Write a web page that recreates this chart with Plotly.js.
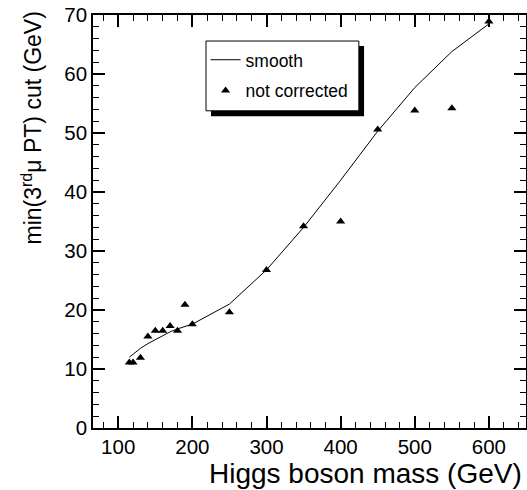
<!DOCTYPE html>
<html>
<head>
<meta charset="utf-8">
<script src="https://cdn.plot.ly/plotly-3.0.1.min.js"></script>
<style>html,body{margin:0;padding:0;background:#fff;}#chart{width:527px;height:490px;}</style>
</head>
<body>
<div id="chart"></div>
<script>
// Higgs boson mass (GeV)
const massSmooth = [115, 120, 130, 140, 150, 160, 170, 180, 190, 200, 250, 300, 350, 400, 450, 500, 550, 600];
const cutSmooth  = [12.0, 12.5, 13.5, 14.3, 15.0, 15.7, 16.3, 16.8, 17.2, 17.6, 21.0, 26.8, 34.0, 42.0, 50.3, 57.7, 63.8, 68.5];
const massRaw = [115, 120, 130, 140, 150, 160, 170, 180, 190, 200, 250, 300, 350, 400, 450, 500, 550, 600];
const cutRaw  = [11.1, 11.1, 11.9, 15.5, 16.5, 16.5, 17.3, 16.5, 20.9, 17.6, 19.6, 26.8, 34.2, 35.0, 50.6, 53.8, 54.2, 68.9];
const legendNames = ["smooth", "not corrected"];
const xTitle = "Higgs boson mass (GeV)";
const yTitle = "min(3<sup>rd</sup>μ PT) cut (GeV)";

const FONT = "Liberation Sans, Arial, Helvetica, sans-serif";
const X_RANGE = [66, 650];
const Y_RANGE = [0, 70];

const traces = [
  {x: massSmooth, y: cutSmooth, mode: "lines", name: legendNames[0], legendgroup: "a",
   line: {color: "#000", width: 1}},
  {x: massRaw, y: cutRaw, mode: "markers", name: legendNames[1], legendgroup: "b",
   marker: {symbol: "triangle-up", size: 8, color: "#000"}}
];

const layout = {
  width: 527, height: 490,
  margin: {l: 93, r: 1, t: 15, b: 62},
  paper_bgcolor: "#fff", plot_bgcolor: "#fff",
  font: {family: FONT, color: "#000"},
  xaxis: {range: X_RANGE, tick0: 0, dtick: 100,
    showline: true, mirror: "ticks", linecolor: "#000", linewidth: 1.5,
    ticks: "inside", ticklen: 12, tickwidth: 1.5, tickcolor: "#000",
    showgrid: false, zeroline: false,
    tickfont: {family: FONT, size: 20.5, color: "#000"},
    minor: {dtick: 20, ticklen: 6, tickwidth: 1.3, tickcolor: "#000", ticks: "inside"}},
  yaxis: {range: Y_RANGE, tick0: 0, dtick: 10,
    showline: true, mirror: "ticks", linecolor: "#000", linewidth: 1.5,
    ticks: "inside", ticklen: 12, tickwidth: 1.5, tickcolor: "#000",
    showgrid: false, zeroline: false,
    tickfont: {family: FONT, size: 20.5, color: "#000"},
    minor: {dtick: 2, ticklen: 6, tickwidth: 1.3, tickcolor: "#000", ticks: "inside"}},
  showlegend: true,
  legend: {x: 0.26, y: 0.935, xanchor: "left", yanchor: "top", bgcolor: "rgba(0,0,0,0)",
    borderwidth: 0, font: {family: FONT, size: 17.5, color: "#000"}, tracegroupgap: 5},
  shapes: [
    {type: "rect", xref: "paper", yref: "paper", x0: 0.2725, x1: 0.626, y0: 0.755, y1: 0.925,
     fillcolor: "#000", line: {width: 0}, layer: "above"},
    {type: "rect", xref: "paper", yref: "paper", x0: 0.261, x1: 0.614, y0: 0.768, y1: 0.937,
     fillcolor: "#fff", line: {color: "#000", width: 1}, layer: "above"}
  ],
  annotations: [
    {text: xTitle, xref: "paper", yref: "paper", x: 1, y: 0, xanchor: "right", yanchor: "top",
     yshift: -28, xshift: -2, showarrow: false, font: {family: FONT, size: 28, color: "#000"}},
    {text: yTitle, xref: "paper", yref: "paper", x: 0, y: 1, xanchor: "center", yanchor: "top",
     xshift: -62, yshift: 5, textangle: -90, showarrow: false, font: {family: FONT, size: 23, color: "#000"}}
  ]
};

Plotly.newPlot("chart", traces, layout, {displayModeBar: false});
</script>
</body>
</html>
